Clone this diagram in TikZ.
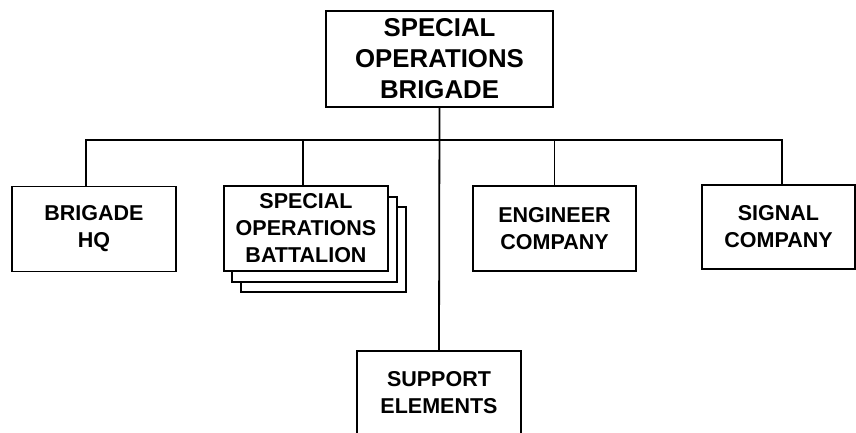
\documentclass[tikz,border=0pt]{standalone}
\usepackage{fontspec}
\setmainfont{Liberation Sans}
\begin{document}
\begin{tikzpicture}[x=1pt,y=-1pt,
  box/.style={draw=black, line width=1.8pt, fill=white, inner sep=0pt, align=center,
    font=\fontsize{21.5}{27}\selectfont\bfseries},
  bigbox/.style={box, font=\fontsize{25.8}{31}\selectfont\bfseries},
  conn/.style={draw=black, line width=1.8pt}]
\useasboundingbox (0,0) rectangle (856,432);
\clip (0,0) rectangle (856,432);
\node[bigbox, minimum width=227pt, minimum height=96pt] (top) at (439.5,59) {SPECIAL\\OPERATIONS\\BRIGADE};
\node[box, minimum width=164pt, minimum height=85pt] (hq) at (94,229) {BRIGADE\\HQ};
\node[box, minimum width=165pt, minimum height=85pt] (bat3) at (323.5,249.5) {};
\node[box, minimum width=165pt, minimum height=85pt] (bat2) at (314.5,239.5) {};
\node[box, minimum width=164pt, minimum height=85pt] (bat) at (306,228.5) {SPECIAL\\OPERATIONS\\BATTALION};
\node[box, minimum width=163pt, minimum height=85pt] (eng) at (554.5,228.5) {ENGINEER\\COMPANY};
\node[box, minimum width=153pt, minimum height=84pt] (sig) at (778.5,227) {SIGNAL\\COMPANY};
\node[box, minimum width=164pt, minimum height=83pt] (sup) at (439,392.5) {SUPPORT\\ELEMENTS};
\coordinate (bus) at (439.5,140);
\draw[conn] ([xshift=-8pt]hq.north) |- ([xshift=3.5pt]sig.north |- bus) -- ([xshift=3.5pt]sig.north);
\draw[conn] ([xshift=-3pt]bat.north) -- ([xshift=-3pt]bat.north |- bus);
\draw[conn] (eng.north) -- (eng.north |- bus);
\draw[conn] (top.south) -- (sup.north);
\end{tikzpicture}
\end{document}
